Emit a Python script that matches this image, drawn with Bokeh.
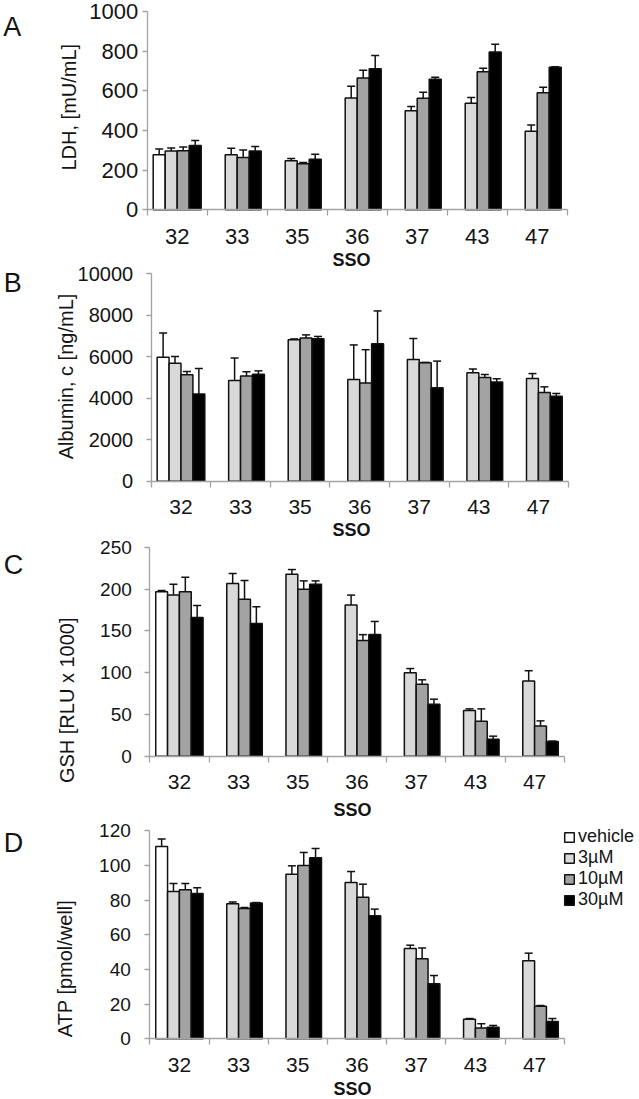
from bokeh.plotting import figure
from bokeh.models import (ColumnDataSource, FixedTicker, Whisker, TeeHead, Label,
                          Legend, LegendItem, Range1d, LinearAxis)
from bokeh.transform import dodge
from bokeh.embed import file_html
from bokeh.resources import INLINE
import math

# ---------------- data ----------------
sso = ["32", "33", "35", "36", "37", "43", "47"]
treatments = ["vehicle", "3µM", "10µM", "30µM"]
vehicle_sso = ["32"]          # vehicle was measured only with SSO 32

# A: LDH [mU/mL]
ldh_vehicle = [277]
ldh_vehicle_err = [29]
ldh_3uM = [296, 277, 247, 564, 499, 537, 396]
ldh_3uM_err = [16, 34, 12, 59, 22, 29, 32]
ldh_10uM = [298, 264, 232, 665, 562, 696, 590]
ldh_10uM_err = [19, 37, 6, 39, 31, 18, 28]
ldh_30uM = [324, 297, 255, 711, 658, 796, 719]
ldh_30uM_err = [25, 22, 25, 67, 10, 39, 3]

# B: Albumin, c [ng/mL]
alb_vehicle = [5980]
alb_vehicle_err = [1170]
alb_3uM = [5690, 4860, 6820, 4900, 5870, 5230, 4950]
alb_3uM_err = [320, 1080, 40, 1670, 1010, 180, 240]
alb_10uM = [5130, 5070, 6910, 4730, 5710, 5000, 4280]
alb_10uM_err = [160, 210, 145, 1610, 20, 145, 270]
alb_30uM = [4210, 5160, 6870, 6630, 4500, 4780, 4100]
alb_30uM_err = [1220, 160, 110, 1580, 1290, 160, 130]

# C: GSH [RLU x 1000]
gsh_vehicle = [197]
gsh_vehicle_err = [1.5]
gsh_3uM = [193, 207, 218, 181, 100, 54.7, 90]
gsh_3uM_err = [13, 12, 5.6, 12, 5, 2, 12.4]
gsh_10uM = [197, 188, 200, 138.6, 86.3, 41.9, 36.3]
gsh_10uM_err = [17.5, 22.5, 10, 7, 5.2, 14.8, 6]
gsh_30uM = [166, 159, 206, 145.8, 62.3, 20.4, 17.6]
gsh_30uM_err = [14.5, 20, 4, 15.6, 6, 3.6, 0.5]

# D: ATP [pmol/well]
atp_vehicle = [111]
atp_vehicle_err = [4.2]
atp_3uM = [85, 77.9, 95, 90.2, 52.1, 11.3, 45]
atp_3uM_err = [4.6, 1, 4.8, 6.3, 1.9, 0.4, 4.4]
atp_10uM = [86, 75.2, 100, 81.7, 46.2, 6.2, 18.8]
atp_10uM_err = [3.6, 0.6, 7.5, 7.5, 6.2, 2.5, 0.4]
atp_30uM = [83.8, 78.3, 104.4, 71, 31.7, 6.7, 10]
atp_30uM_err = [3.3, 0.3, 5.4, 3.8, 4.8, 1, 1.7]

# ---------------- style / layout ----------------
W, H = 639, 1099
FONT = "Liberation Sans"
TEXT = "#141414"
AXIS = "#a3a3a3"
EDGE = "#111111"
fills = ["#ffffff", "#d9d9d9", "#a3a3a3", "#000000"]
offsets = [-0.3, -0.1, 0.1, 0.3]
BAR_W = 0.2

# one canvas; page-pixel default ranges (y reversed) used only to place texts
p = figure(width=W, height=H, x_range=Range1d(0, W), y_range=Range1d(H, 0),
           x_axis_type=None, y_axis_type=None, output_backend="svg",
           toolbar_location=None, title=None,
           min_border_left=0, min_border_right=0, min_border_top=0, min_border_bottom=0,
           background_fill_color=None, border_fill_color=None, outline_line_color=None)
p.grid.visible = False


def add_panel(key, letter, ylabel, ymax, ystep, series, box, y_standoff, ytick_size, xtick_size,
              letter_pos, ylabel_pos, sso_pos, legend=False):
    left, right, top, bottom = box            # frame of this panel, in page pixels
    n = len(sso)
    ppx = (right - left) / n
    ppy = (bottom - top) / ymax
    xr, yr = "x" + key, "y" + key
    p.extra_x_ranges[xr] = Range1d(-left / ppx, (W - left) / ppx)
    p.extra_y_ranges[yr] = Range1d(-(H - bottom) / ppy, ymax + top / ppy)

    renderers = []
    for j, (cats, vals, errs) in enumerate(series):
        src = ColumnDataSource(dict(
            xc=[sso.index(c) + 0.5 for c in cats],
            top=vals,
            upper=[v + e for v, e in zip(vals, errs)],
        ))
        r = p.vbar(x=dodge("xc", offsets[j]), top="top", bottom=0, width=BAR_W, source=src,
                   fill_color=fills[j], line_color=EDGE, line_width=1.5,
                   x_range_name=xr, y_range_name=yr)
        renderers.append(r)
        p.add_layout(Whisker(base=dodge("xc", offsets[j]), lower="top", upper="upper", source=src,
                             line_color=EDGE, line_width=1.5, level="annotation",
                             upper_head=TeeHead(size=8, line_color=EDGE, line_width=1.5),
                             lower_head=None, x_range_name=xr, y_range_name=yr))

    xa = LinearAxis(x_range_name=xr, y_range_name=yr, fixed_location=0, bounds=(0, n),
                    ticker=FixedTicker(ticks=[i + 0.5 for i in range(n)],
                                       minor_ticks=list(range(n + 1))))
    xa.major_label_overrides = {i + 0.5: s for i, s in enumerate(sso)}
    xa.major_tick_line_color = None
    xa.major_tick_out = 0
    xa.major_tick_in = 0
    xa.minor_tick_line_color = AXIS
    xa.minor_tick_line_width = 1.3
    xa.minor_tick_out = 6
    xa.minor_tick_in = 0
    xa.axis_line_color = AXIS
    xa.axis_line_width = 1.3
    xa.major_label_text_font = FONT
    xa.major_label_text_font_size = xtick_size
    xa.major_label_text_color = TEXT
    xa.major_label_standoff = 13
    p.add_layout(xa, "below")

    ya = LinearAxis(x_range_name=xr, y_range_name=yr, fixed_location=0, bounds=(0, ymax),
                    ticker=FixedTicker(ticks=list(range(0, ymax + 1, ystep))))
    ya.minor_tick_line_color = None
    ya.major_tick_line_color = AXIS
    ya.major_tick_line_width = 1.3
    ya.major_tick_out = 5
    ya.major_tick_in = 0
    ya.axis_line_color = AXIS
    ya.axis_line_width = 1.3
    ya.major_label_text_font = FONT
    ya.major_label_text_font_size = ytick_size
    ya.major_label_text_color = TEXT
    ya.major_label_standoff = y_standoff
    p.add_layout(ya, "left")

    p.add_layout(Label(x=sso_pos[0], y=sso_pos[1], text="SSO", text_font=FONT,
                       text_font_style="bold", text_font_size="18px", text_color=TEXT,
                       text_align="center", text_baseline="middle"))
    p.add_layout(Label(x=letter_pos[0], y=letter_pos[1], text=letter, text_font=FONT,
                       text_font_size="27px", text_color=TEXT,
                       text_align="left", text_baseline="alphabetic"))
    p.add_layout(Label(x=ylabel_pos[0], y=ylabel_pos[1], text=ylabel, text_font=FONT,
                       text_font_size="20px", text_color=TEXT, angle=math.pi / 2,
                       text_align="center", text_baseline="middle"))

    if legend:
        lg = Legend(items=[LegendItem(label=t, renderers=[r]) for t, r in zip(treatments, renderers)],
                    location=(563, 189), glyph_width=12, glyph_height=12, label_standoff=3,
                    label_height=20, spacing=0, padding=0, margin=0,
                    border_line_color=None, background_fill_alpha=0,
                    label_text_font=FONT, label_text_font_size="18px", label_text_color=TEXT)
        p.add_layout(lg)


add_panel("A", "A", "LDH, [mU/mL]", 1000, 200,
          [(vehicle_sso, ldh_vehicle, ldh_vehicle_err), (sso, ldh_3uM, ldh_3uM_err),
           (sso, ldh_10uM, ldh_10uM_err), (sso, ldh_30uM, ldh_30uM_err)],
          (146.7, 566.7, 11, 209.3), 4, "22px", "22px", (2.7, 26.7), (68.8, 106.7), (351, 259.3))
add_panel("B", "B", "Albumin, c [ng/mL]", 10000, 2000,
          [(vehicle_sso, alb_vehicle, alb_vehicle_err), (sso, alb_3uM, alb_3uM_err),
           (sso, alb_10uM, alb_10uM_err), (sso, alb_30uM, alb_30uM_err)],
          (150.7, 567.7, 273.3, 480.7), 13, "20px", "21px", (3.3, 282.7), (65.8, 376), (351, 529))
add_panel("C", "C", "GSH  [RLU x 1000]", 250, 50,
          [(vehicle_sso, gsh_vehicle, gsh_vehicle_err), (sso, gsh_3uM, gsh_3uM_err),
           (sso, gsh_10uM, gsh_10uM_err), (sso, gsh_30uM, gsh_30uM_err)],
          (149.3, 563.7, 547, 755.7), 13, "19px", "21px", (3.3, 564.5), (66.5, 697), (352, 809.5))
add_panel("D", "D", "ATP [pmol/well]", 120, 20,
          [(vehicle_sso, atp_vehicle, atp_vehicle_err), (sso, atp_3uM, atp_3uM_err),
           (sso, atp_10uM, atp_10uM_err), (sso, atp_30uM, atp_30uM_err)],
          (149.3, 563.7, 830.3, 1038.3), 14, "19px", "21px", (3.3, 842), (64.5, 968), (352, 1088),
          legend=True)

open("out.html", "w").write(file_html(p, INLINE))
